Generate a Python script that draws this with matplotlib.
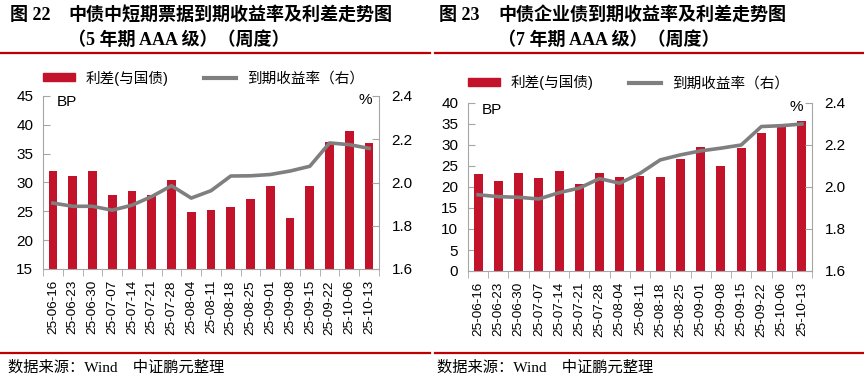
import numpy as np
import matplotlib
matplotlib.use("Agg")
from matplotlib import pyplot as plt
from matplotlib.lines import Line2D

plt.rcParams['font.family'] = ['Liberation Sans', 'Noto Sans CJK SC']

dates = ['25-06-16', '25-06-23', '25-06-30', '25-07-07', '25-07-14', '25-07-21',
         '25-07-28', '25-08-04', '25-08-11', '25-08-18', '25-08-25', '25-09-01',
         '25-09-08', '25-09-15', '25-09-22', '25-10-06', '25-10-13']

# fig 22: 5y AAA MTN
spread_mtn = [32.0, 31.1, 32.0, 27.9, 28.5, 27.9, 30.5, 24.8, 25.3, 25.7, 27.2, 29.4,
              23.9, 29.4, 37.1, 38.9, 36.8]
ytm_mtn = [1.905, 1.89, 1.89, 1.872, 1.895, 1.935, 1.985, 1.928, 1.962, 2.03, 2.031,
           2.037, 2.053, 2.075, 2.183, 2.175, 2.158]

# fig 23: 7y AAA corporate bond
spread_corp = [23.0, 21.5, 23.3, 22.2, 23.9, 20.7, 23.3, 22.4, 22.7, 22.4, 26.6, 29.5,
               25.1, 29.2, 32.8, 34.8, 35.8]
ytm_corp = [1.963, 1.954, 1.951, 1.943, 1.973, 1.995, 2.04, 2.018, 2.065, 2.129, 2.153,
            2.172, 2.185, 2.2, 2.288, 2.292, 2.3]

RED = '#C3132B'
GRAY = '#7F7F7F'
SPINE = '#A6A6A6'
W, H = 864, 383

fig = plt.figure(figsize=(8.64, 3.83), dpi=100)


def px(x, y):
    return x / W, 1 - y / H


def panel(box, spread, ytm, ylim, ystep, leg_xy, bp_xy, pct_xy):
    l, t, r, b = box
    ax = fig.add_axes([l / W, 1 - b / H, (r - l) / W, (b - t) / H])
    x = np.arange(len(dates))
    ax.bar(x, spread, width=0.44, color=RED, zorder=2)
    ax.set_xlim(-0.5, len(dates) - 0.5)
    ax.set_ylim(*ylim)
    ax.set_yticks(np.arange(ylim[0], ylim[1] + 0.1, ystep))
    ax.set_xticks(x)
    ax.set_xticklabels(dates, rotation=90)
    ax.set_xticks(np.arange(-0.5, len(dates)), minor=True)
    ax.tick_params(axis='x', which='major', length=0, pad=8, labelsize=9.7)
    ax.tick_params(axis='x', which='minor', length=5, direction='out', color=SPINE)
    ax.tick_params(axis='y', direction='in', length=5, color=SPINE, pad=7, labelsize=11)
    for s in ['top', 'right']:
        ax.spines[s].set_visible(False)
    for s in ['left', 'bottom']:
        ax.spines[s].set_color(SPINE)

    ax2 = ax.twinx()
    ax2.plot(x, ytm, color=GRAY, lw=2.6, solid_joinstyle='round', zorder=3)
    ax2.set_ylim(1.6, 2.4)
    ax2.set_yticks(np.arange(1.6, 2.41, 0.2))
    ax2.set_yticklabels(['%.1f' % v for v in np.arange(1.6, 2.41, 0.2)])
    ax2.tick_params(axis='y', direction='in', length=5, color=SPINE, pad=9, labelsize=11)
    for s in ['top', 'left', 'bottom']:
        ax2.spines[s].set_visible(False)
    ax2.spines['right'].set_color(SPINE)

    ax.text(bp_xy[0], bp_xy[1], 'BP', transform=ax.transAxes, fontsize=11,
            ha='left', va='center')
    ax.text(pct_xy[0], pct_xy[1], '%', transform=ax.transAxes, fontsize=11,
            ha='right', va='center')

    handles = [plt.Rectangle((0, 0), 1, 1, color=RED),
               Line2D([], [], color=GRAY, lw=3)]
    ax.legend(handles, ['利差(与国债)', '到期收益率（右）'], ncol=2, frameon=False,
              loc='center left', bbox_to_anchor=leg_xy, fontsize=10.5,
              handlelength=2.2, handleheight=0.5, handletextpad=0.75,
              columnspacing=2.4, borderpad=0, borderaxespad=0)
    return ax


panel((43, 96, 379, 269), spread_mtn, ytm_mtn, (15, 45), 5,
      (0.0, 1.104), (0.042, 0.965), (0.979, 0.977))
panel((468, 103, 812, 271), spread_corp, ytm_corp, (0, 40), 5,
      (0.0, 1.12), (0.04, 0.958), (0.974, 0.976))

# titles
title_font = ['Liberation Serif', 'Noto Sans CJK SC']
fig.text(*px(10, 15), '图 22', fontsize=13, fontweight='bold', family=title_font, va='center')
fig.text(*px(68, 15), '中债中短期票据到期收益率及利差走势图', fontsize=13,
         fontweight='bold', family=title_font, va='center')
fig.text(*px(68, 40), '（5 年期 AAA 级）（周度）', fontsize=13, fontweight='bold',
         family=title_font, va='center')
fig.text(*px(439, 15), '图 23', fontsize=13, fontweight='bold', family=title_font, va='center')
fig.text(*px(498, 15), '中债企业债到期收益率及利差走势图', fontsize=13,
         fontweight='bold', family=title_font, va='center')
fig.text(*px(498, 40), '（7 年期 AAA 级）（周度）', fontsize=13, fontweight='bold',
         family=title_font, va='center')

# red rules
for x0, x1 in [(0, 430), (435, 864)]:
    for y in [52.5, 352.5]:
        fig.add_artist(Line2D([x0 / W, x1 / W], [1 - y / H, 1 - y / H],
                              color='#C00000', lw=1.6))

# source
fig.text(*px(8, 368), '数据来源：Wind　中证鹏元整理', fontsize=11, family=title_font, va='center')
fig.text(*px(437, 368), '数据来源：Wind　中证鹏元整理', fontsize=11, family=title_font, va='center')

fig.savefig('out.png', dpi=100)
